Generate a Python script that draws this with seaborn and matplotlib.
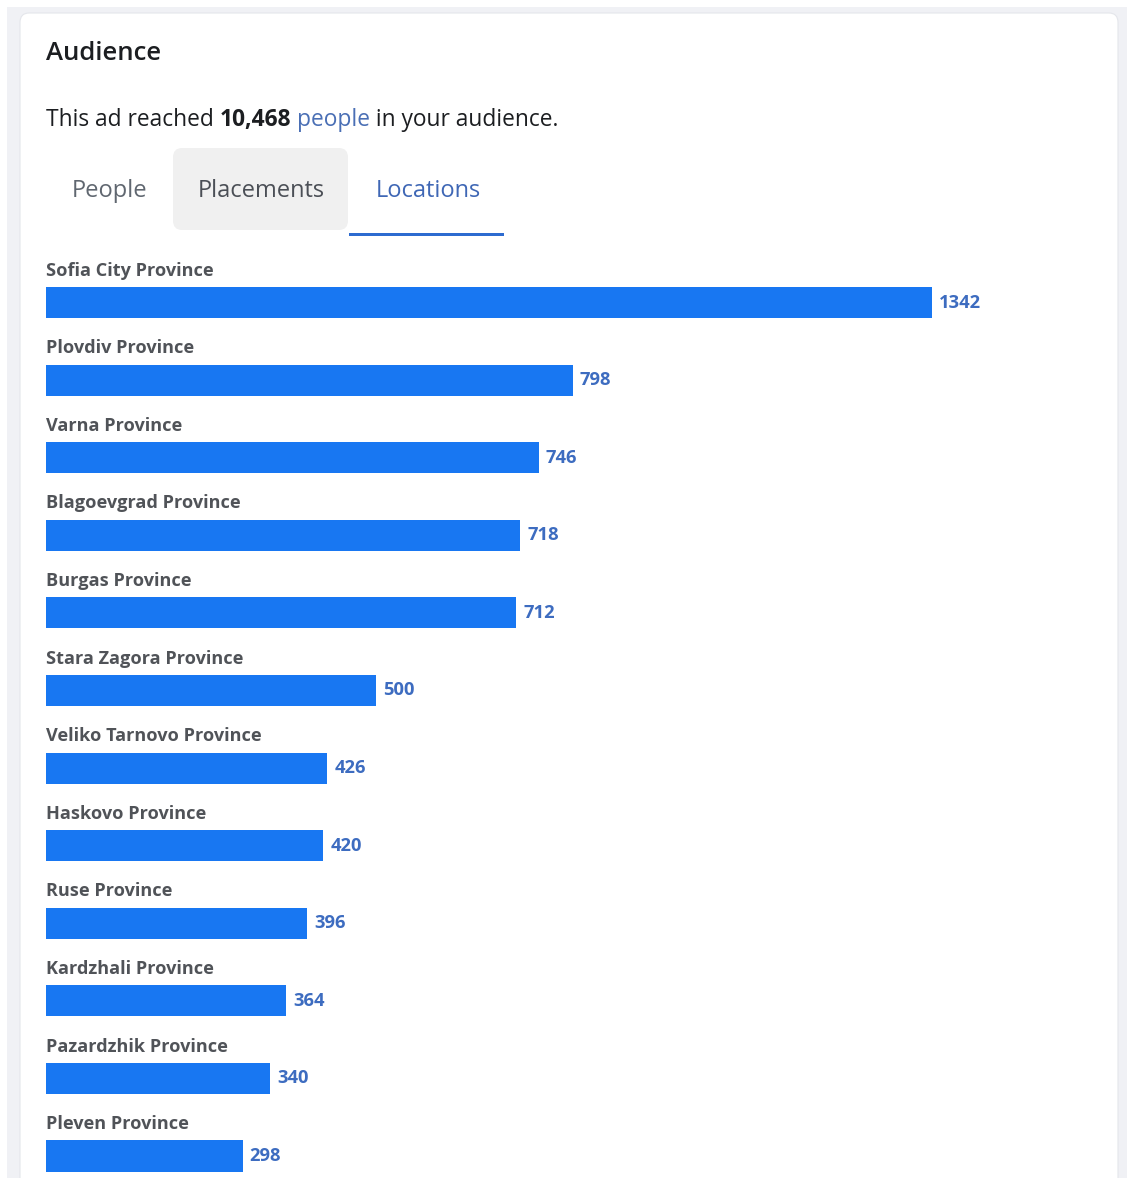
import matplotlib
matplotlib.use("Agg")
import matplotlib.pyplot as plt
from matplotlib.patches import FancyBboxPatch, Rectangle
import seaborn as sns
import pandas as pd

# Reach by province
provinces = [
    "Sofia City Province", "Plovdiv Province", "Varna Province",
    "Blagoevgrad Province", "Burgas Province", "Stara Zagora Province",
    "Veliko Tarnovo Province", "Haskovo Province", "Ruse Province",
    "Kardzhali Province", "Pazardzhik Province", "Pleven Province",
]
reach = [1342, 798, 746, 718, 712, 500, 426, 420, 396, 364, 340, 298]

title = "Audience"
total_reached = "10,468"
tabs = ["People", "Placements", "Locations"]

W, H = 1127, 1178
DPI = 100
BAR_BLUE = "#1877f2"
VALUE_BLUE = "#3d6cc0"
LABEL_GRAY = "#505358"
LINK_BLUE = "#4a6fb5"

sns.set_theme(style="white")
plt.rcParams["font.family"] = ["Open Sans", "DejaVu Sans"]

fig = plt.figure(figsize=(W / DPI, H / DPI), dpi=DPI)
fig.patch.set_facecolor("white")


def fx(x):
    return x / W


def fy(y):
    return 1 - y / H


# page background and card
fig.patches.append(Rectangle((fx(7), 0), fx(W - 7), fy(7), transform=fig.transFigure,
                             facecolor="#f0f1f5", edgecolor="none", zorder=-3))
fig.patches.append(FancyBboxPatch((fx(20), fy(1200)), fx(1118 - 20), (1200 - 13) / H,
                                  boxstyle="round,pad=0,rounding_size=0.008",
                                  transform=fig.transFigure, facecolor="white",
                                  edgecolor="#e4e6eb", linewidth=0.8, zorder=-2))

# header
fig.text(fx(46), fy(54), title, fontsize=18.5, fontweight="semibold",
         color="#1c1e21", va="center", ha="left")

fig.canvas.draw()
renderer = fig.canvas.get_renderer()
parts = [("This ad reached ", "normal", "#1c1e21"),
         (total_reached, "bold", "#1c1e21"),
         (" ", "normal", "#1c1e21"),
         ("people", "normal", LINK_BLUE),
         (" in your audience.", "normal", "#1c1e21")]
x = 46
for txt, wt, col in parts:
    t = fig.text(fx(x), fy(120), txt, fontsize=16.4, fontweight=wt, color=col,
                 va="center", ha="left")
    bb = t.get_window_extent(renderer=renderer)
    x += bb.width

# tabs
fig.patches.append(FancyBboxPatch((fx(173), fy(230)), fx(348 - 173), (230 - 148) / H,
                                  boxstyle="round,pad=0,rounding_size=0.008",
                                  transform=fig.transFigure, facecolor="#f0f0f0",
                                  edgecolor="none", zorder=-1))
tab_x = [110, 261, 428]
tab_col = ["#606770", "#4b4f56", "#3f67b5"]
for name, tx, col in zip(tabs, tab_x, tab_col):
    fig.text(fx(tx), fy(191), name, fontsize=17, color=col, ha="center", va="center",
             zorder=2)
fig.patches.append(Rectangle((fx(349), fy(236)), fx(504 - 349), 3.5 / H,
                             transform=fig.transFigure, facecolor="#2d6bd0",
                             edgecolor="none", zorder=2))

# bar chart
ax_left, ax_right, ax_top = 46, 1100, 250
ax = fig.add_axes([fx(ax_left), 0, fx(ax_right - ax_left), fy(ax_top)])
ax.set_zorder(1)
ax.set_facecolor("none")
df = pd.DataFrame({"province": provinces, "reach": reach})
sns.barplot(data=df, x="reach", y="province", orient="h", color=BAR_BLUE,
            width=0.40, saturation=1, linewidth=0, ax=ax)

px_per_unit = (932 - 46) / 1342
ax.set_xlim(0, (ax_right - ax_left) / px_per_unit)
row = (1156 - 302.5) / 11
ax.set_ylim(11 + (H - 1156) / row, -(302.5 - ax_top) / row)

for i, (name, val) in enumerate(zip(provinces, reach)):
    ax.text(0, i - 0.41, name, fontsize=13.1, fontweight="bold", color=LABEL_GRAY,
            ha="left", va="center")
    ax.annotate(str(val), (val, i), xytext=(7, 0), textcoords="offset pixels",
                fontsize=13.2, fontweight="bold", color=VALUE_BLUE,
                ha="left", va="center")

ax.set_xlabel("")
ax.set_ylabel("")
ax.set_xticks([])
ax.set_yticks([])
for s in ax.spines.values():
    s.set_visible(False)

fig.savefig("out.png", dpi=DPI)
